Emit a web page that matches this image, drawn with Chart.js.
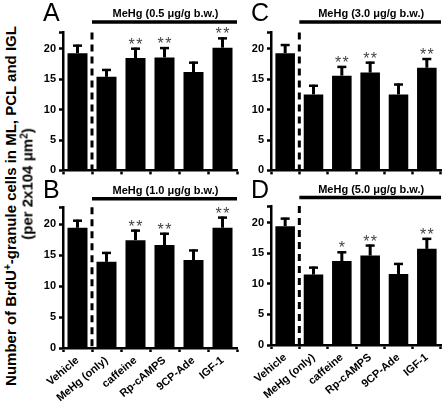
<!DOCTYPE html>
<html>
<head>
<meta charset="utf-8">
<script src="https://cdn.jsdelivr.net/npm/chart.js@4.4.0/dist/chart.umd.min.js"></script>
<style>
body { margin: 0; background: #fff; width: 448px; height: 410px; overflow: hidden; position: relative; font-family: 'Liberation Sans', Arial, sans-serif; }
canvas { position: absolute; }
.ytitle { position: absolute; font-weight: bold; font-size: 15px; white-space: nowrap; color: #000; transform: translate(-50%, -50%) rotate(-90deg); }
.ytitle sup { font-size: 10px; vertical-align: 5px; line-height: 0; }
</style>
</head>
<body>
<canvas id="chartA"></canvas>
<canvas id="chartB"></canvas>
<canvas id="chartC"></canvas>
<canvas id="chartD"></canvas>
<div class="ytitle" style="left:10px; top:206px;">Number of BrdU<sup>+</sup>-granule cells in ML, PCL and IGL</div>
<div class="ytitle" style="left:27px; top:184px;">(per 2x104 &mu;m<sup>2</sup>)</div>
<script>
'use strict';

const categories = ['Vehicle', 'MeHg (only)', 'caffeine', 'Rp-cAMPS', '9CP-Ade', 'IGF-1'];
const yTicks = [0, 5, 10, 15, 20];
const yMax = 22.7;

const meanA = [19.3, 15.4, 18.5, 18.6, 16.2, 20.2];
const semA = [1.4, 1.3, 1.7, 1.7, 1.7, 1.7];
const sigA = ['', '', '**', '**', '', '**'];

const meanB = [19.4, 13.9, 17.4, 16.6, 14.2, 19.4];
const semB = [1.3, 1.6, 1.7, 2.0, 1.7, 1.8];
const sigB = ['', '', '**', '**', '', '**'];

const meanC = [19.3, 12.5, 15.6, 16.1, 12.5, 16.9];
const semC = [1.5, 1.6, 1.6, 1.8, 1.8, 1.6];
const sigC = ['', '', '**', '**', '', '**'];

const meanD = [19.4, 11.5, 13.7, 14.6, 11.6, 15.7];
const semD = [1.4, 1.3, 1.6, 1.8, 1.8, 1.8];
const sigD = ['', '', '*', '**', '', '**'];

const panelLetters = ['A', 'B', 'C', 'D'];
const doseLabels = ['MeHg (0.5 \u03bcg/g b.w.)', 'MeHg (1.0 \u03bcg/g b.w.)', 'MeHg (3.0 \u03bcg/g b.w.)', 'MeHg (5.0 \u03bcg/g b.w.)'];

const FONT = "'Liberation Sans', Arial, sans-serif";

// error bars, significance stars, dashed separator, dose bar and panel letter
const decorPlugin = {
    id: 'decor',
    afterDatasetsDraw(chart) {
        const opt = chart.options.plugins.decor;
        const ctx = chart.ctx;
        const area = chart.chartArea;
        const ys = chart.scales.y;
        const meta = chart.getDatasetMeta(0);
        ctx.save();

        // error bars (upper only)
        ctx.strokeStyle = '#000';
        ctx.fillStyle = '#000';
        meta.data.forEach((bar, i) => {
            const x = bar.x;
            const yTop = ys.getPixelForValue(opt.mean[i] + opt.sem[i]);
            ctx.lineWidth = 3;
            ctx.beginPath();
            ctx.moveTo(x, bar.y);
            ctx.lineTo(x, yTop);
            ctx.stroke();
            ctx.lineWidth = 2.5;
            ctx.beginPath();
            ctx.moveTo(x - 4.5, yTop + 1);
            ctx.lineTo(x + 4.5, yTop + 1);
            ctx.stroke();

            const s = opt.sig[i];
            if (s) {
                ctx.fillStyle = '#444';
                ctx.font = '16px ' + FONT;
                ctx.textAlign = 'center';
                ctx.textBaseline = 'alphabetic';
                const ty = yTop + 2;
                if (s.length === 2) {
                    ctx.fillText('*', x - 3.8, ty);
                    ctx.fillText('*', x + 3.8, ty);
                } else {
                    ctx.fillText('*', x, ty);
                }
                ctx.fillStyle = '#000';
            }
        });

        // dashed separator between vehicle and MeHg groups
        const sepX = (meta.data[0].x + meta.data[1].x) / 2;
        ctx.lineWidth = 3;
        ctx.setLineDash([7, 5]);
        ctx.beginPath();
        ctx.moveTo(sepX, area.top);
        ctx.lineTo(sepX, area.bottom);
        ctx.stroke();
        ctx.setLineDash([]);

        // dose bar + label
        const lineY = area.top - opt.lineGap;
        ctx.lineWidth = 3.5;
        ctx.beginPath();
        ctx.moveTo(sepX, lineY);
        ctx.lineTo(area.right, lineY);
        ctx.stroke();
        ctx.font = 'bold 11px ' + FONT;
        ctx.textAlign = 'center';
        ctx.textBaseline = 'alphabetic';
        ctx.fillText(opt.dose, (sepX + area.right) / 2 + 1, lineY - 5);

        // panel letter
        ctx.font = '25px ' + FONT;
        ctx.textAlign = 'left';
        ctx.fillText(opt.letter, area.left - 20, area.top - opt.letterGap);

        ctx.restore();
    }
};

function makePanel(id, pos, mean, sem, sig, idx, showLabels) {
    const canvas = document.getElementById(id);
    canvas.width = pos.w;
    canvas.height = pos.h;
    canvas.style.left = pos.x + 'px';
    canvas.style.top = pos.y + 'px';

    return new Chart(canvas, {
        type: 'bar',
        data: {
            labels: categories,
            datasets: [{
                data: mean,
                backgroundColor: '#000',
                borderWidth: 0,
                categoryPercentage: 1.0,
                barPercentage: 0.69
            }]
        },
        options: {
            responsive: false,
            animation: false,
            layout: { padding: { top: pos.padTop, right: pos.padRight, left: 0, bottom: 0 } },
            scales: {
                x: {
                    grid: { display: true, drawOnChartArea: false, drawTicks: true, tickLength: 4, tickWidth: 2.5, color: '#000', offset: true },
                    border: { display: true, color: '#000', width: 2.5 },
                    ticks: {
                        display: showLabels,
                        color: '#000',
                        font: { family: FONT, size: 11, weight: 'bold' },
                        minRotation: 40,
                        maxRotation: 40,
                        autoSkip: false,
                        padding: 2
                    },
                    afterFit: (scale) => { scale.height = pos.xH; }
                },
                y: {
                    min: 0,
                    max: yMax,
                    grid: { display: true, drawOnChartArea: false, drawTicks: true, tickLength: 4, tickWidth: 2.5, color: '#000' },
                    border: { display: true, color: '#000', width: 2.5 },
                    ticks: {
                        color: '#000',
                        font: { family: FONT, size: 11, weight: 'bold' },
                        padding: 3,
                        callback: (v) => (yTicks.includes(v) ? String(v) : '')
                    },
                    afterBuildTicks: (scale) => {
                        scale.ticks = yTicks.concat([yMax]).map(v => ({ value: v }));
                    },
                    afterFit: (scale) => { scale.width = pos.yW; }
                }
            },
            plugins: {
                legend: { display: false },
                tooltip: { enabled: false },
                decor: {
                    mean: mean,
                    sem: sem,
                    sig: sig,
                    dose: doseLabels[idx],
                    letter: panelLetters[idx],
                    lineGap: pos.lineGap,
                    letterGap: pos.letterGap
                }
            }
        },
        plugins: [decorPlugin]
    });
}

makePanel('chartA', { x: 30, y: 0, w: 212, h: 180, padTop: 32.5, padRight: 5, yW: 33, xH: 9, lineGap: 10.5, letterGap: 11.5 }, meanA, semA, sigA, 0, false);
makePanel('chartB', { x: 30, y: 180, w: 212, h: 230, padTop: 27.3, padRight: 5, yW: 33, xH: 62, lineGap: 8.5, letterGap: 9.5 }, meanB, semB, sigB, 1, true);
makePanel('chartC', { x: 237, y: 0, w: 211, h: 180, padTop: 32.5, padRight: 7, yW: 34, xH: 9, lineGap: 10.5, letterGap: 11.5 }, meanC, semC, sigC, 2, false);
makePanel('chartD', { x: 237, y: 180, w: 211, h: 230, padTop: 26, padRight: 7, yW: 34, xH: 65, lineGap: 8.5, letterGap: 8 }, meanD, semD, sigD, 3, true);
</script>
</body>
</html>
